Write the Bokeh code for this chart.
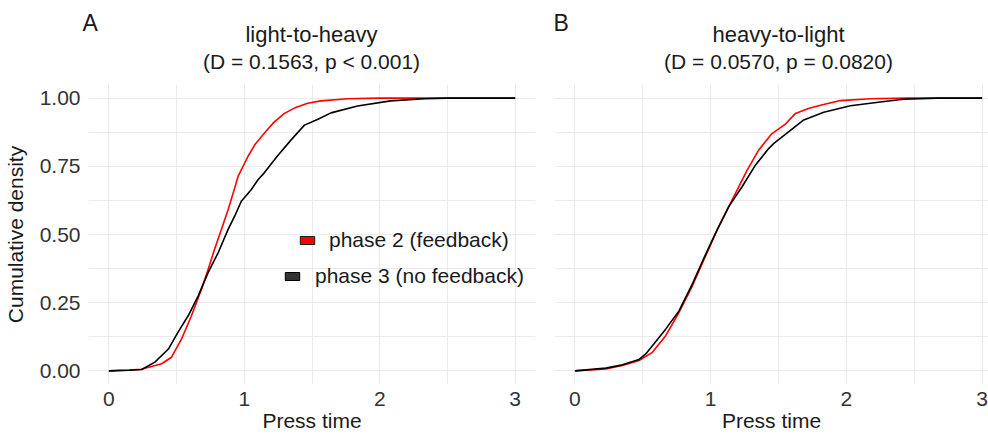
from bokeh.plotting import figure
from bokeh.layouts import row, column
from bokeh.models import FixedTicker, Range1d, Legend, LegendItem
from bokeh.core.properties import value
from bokeh.embed import file_html
from bokeh.resources import INLINE

FONT = "Liberation Sans"

# ---- data -------------------------------------------------------------
x_ticks = [0, 1, 2, 3]
x_minor = [0.5, 1.5, 2.5]
y_ticks = [0, 0.25, 0.5, 0.75, 1.0]
y_minor = [0.125, 0.375, 0.625, 0.875]
y_tick_labels = ["0.00", "0.25", "0.50", "0.75", "1.00"]

series_labels = ["phase 2 (feedback)", "phase 3 (no feedback)"]
panel_tags = ["A", "B"]
panel_titles = ["light-to-heavy", "heavy-to-light"]
panel_stats = ["(D = 0.1563, p < 0.001)", "(D = 0.0570, p = 0.0820)"]

# light-to-heavy, phase 2 (feedback): empirical CDF of press time
lh_p2_time = [0, 0.15, 0.24, 0.39, 0.463, 0.537, 0.61, 0.684, 0.733, 0.78,
              0.831, 0.88, 0.929, 0.954, 1.027, 1.076, 1.149, 1.22, 1.297,
              1.38, 1.468, 1.566, 1.76, 2.0, 3.0]
lh_p2_cdf = [0, 0.003, 0.006, 0.026, 0.05, 0.117, 0.202, 0.299, 0.372, 0.445,
             0.518, 0.59, 0.67, 0.713, 0.786, 0.828, 0.872, 0.912, 0.944,
             0.966, 0.981, 0.99, 0.998, 1.0, 1.0]

# light-to-heavy, phase 3 (no feedback)
lh_p3_time = [0, 0.15, 0.243, 0.34, 0.44, 0.51, 0.586, 0.66, 0.733, 0.807,
              0.88, 0.929, 0.978, 1.051, 1.1, 1.149, 1.223, 1.248, 1.346,
              1.444, 1.54, 1.64, 1.836, 2.08, 2.33, 2.5, 3.0]
lh_p3_cdf = [0, 0.002, 0.005, 0.032, 0.08, 0.141, 0.202, 0.275, 0.36, 0.433,
             0.518, 0.567, 0.622, 0.664, 0.70, 0.727, 0.774, 0.79, 0.847,
             0.901, 0.922, 0.946, 0.971, 0.99, 0.998, 1.0, 1.0]

# heavy-to-light, phase 2 (feedback)
hl_p2_time = [0, 0.228, 0.35, 0.473, 0.571, 0.669, 0.767, 0.865, 0.963, 1.049,
              1.11, 1.184, 1.27, 1.355, 1.447, 1.551, 1.625, 1.72, 1.809,
              1.956, 2.176, 2.45, 3.0]
hl_p2_cdf = [0, 0.007, 0.02, 0.038, 0.068, 0.129, 0.214, 0.311, 0.421, 0.518,
             0.579, 0.652, 0.737, 0.81, 0.868, 0.905, 0.944, 0.962, 0.974,
             0.991, 0.998, 1.0, 1.0]

# heavy-to-light, phase 3 (no feedback)
hl_p3_time = [0, 0.228, 0.35, 0.473, 0.522, 0.583, 0.669, 0.767, 0.865, 0.963,
              1.049, 1.135, 1.233, 1.331, 1.429, 1.466, 1.576, 1.686, 1.833,
              2.03, 2.25, 2.42, 2.67, 3.0]
hl_p3_cdf = [0, 0.01, 0.022, 0.042, 0.062, 0.099, 0.153, 0.22, 0.318, 0.427,
             0.518, 0.603, 0.676, 0.755, 0.816, 0.834, 0.877, 0.92, 0.948,
             0.972, 0.986, 0.996, 1.0, 1.0]

RED = "#FF0000"
BLACK = "#000000"
GRID = "#EBEBEB"
TEXT = "#1A1A1A"
TICK_TEXT = "#333333"

TOTAL_W = 988
HEADER_H = 84
PANEL_H = 434 - HEADER_H
LEFT_W = 544
RIGHT_W = TOTAL_W - LEFT_W


def style_grid(grid, ticker):
    grid.ticker = ticker
    grid.grid_line_color = GRID
    grid.grid_line_width = 1.2
    grid.minor_grid_line_color = GRID
    grid.minor_grid_line_width = 1.0


def make_header():
    """Strip across the top holding the panel tags, titles and statistics."""
    h = figure(width=TOTAL_W, height=HEADER_H, title=None,
               x_range=Range1d(0, TOTAL_W), y_range=Range1d(HEADER_H, 0),
               x_axis_location=None, y_axis_location=None,
               min_border=0, output_backend="svg", toolbar_location=None)
    h.xgrid.visible = False
    h.ygrid.visible = False
    h.outline_line_color = None
    h.background_fill_color = "white"
    h.border_fill_color = "white"
    # (tag x, title centre x) in header pixels for each panel
    for (tag_x, cx), tag, title, stats in zip([(82, 311), (553, 778)],
                                              panel_tags, panel_titles, panel_stats):
        h.text(x=[tag_x], y=[22], text=[tag], text_align="left",
               text_baseline="alphabetic", text_font=value(FONT),
               text_font_size="23px", text_color=TEXT)
        h.text(x=[cx], y=[34], text=[title], text_align="center",
               text_baseline="alphabetic", text_font=value(FONT),
               text_font_size="22px", text_color=TEXT)
        h.text(x=[cx], y=[60.5], text=[stats], text_align="center",
               text_baseline="alphabetic", text_font=value(FONT),
               text_font_size="21px", text_color=TEXT)
    return h


def make_panel(width, x_end, border_left, border_right, show_y):
    p = figure(width=width, height=PANEL_H, title=None,
               x_range=Range1d(-0.15, x_end), y_range=Range1d(-0.05, 1.05),
               min_border_left=border_left, min_border_right=border_right,
               min_border_top=0, min_border_bottom=48,
               output_backend="svg", toolbar_location=None)
    p.outline_line_color = None
    p.background_fill_color = "white"
    p.border_fill_color = "white"

    xt = FixedTicker(ticks=x_ticks, minor_ticks=x_minor)
    yt = FixedTicker(ticks=y_ticks, minor_ticks=y_minor)

    xa = p.xaxis[0]
    xa.ticker = xt
    xa.axis_label = "Press time"
    xa.axis_line_color = None
    xa.major_tick_line_color = None
    xa.minor_tick_line_color = None
    xa.major_label_standoff = 1
    xa.axis_label_standoff = 0
    xa.major_label_text_font = FONT
    xa.major_label_text_font_size = "21px"
    xa.major_label_text_color = TICK_TEXT
    xa.axis_label_text_font = FONT
    xa.axis_label_text_font_size = "21px"
    xa.axis_label_text_font_style = "normal"
    xa.axis_label_text_color = TEXT
    style_grid(p.xgrid[0], xt)

    ya = p.yaxis[0]
    ya.ticker = yt
    style_grid(p.ygrid[0], yt)
    if show_y:
        ya.axis_line_color = None
        ya.major_tick_line_color = None
        ya.minor_tick_line_color = None
        ya.major_label_overrides = {t: s for t, s in zip(y_ticks, y_tick_labels)}
        ya.axis_label = "Cumulative density"
        ya.major_label_standoff = 2
        ya.axis_label_standoff = 10
        ya.major_label_text_font = FONT
        ya.major_label_text_font_size = "21px"
        ya.major_label_text_color = TICK_TEXT
        ya.axis_label_text_font = FONT
        ya.axis_label_text_font_size = "21px"
        ya.axis_label_text_font_style = "normal"
        ya.axis_label_text_color = TEXT
    else:
        # right facet shares the y scale: keep the grid, hide the axis
        ya.visible = False
    return p


# ---- left panel: light-to-heavy ----------------------------------------
p1 = make_panel(LEFT_W, 3.15, 87, 9, True)
p1.line(lh_p2_time, lh_p2_cdf, line_color=RED, line_width=1.6)
p1.line(lh_p3_time, lh_p3_cdf, line_color=BLACK, line_width=1.6)

# legend keys: filled boxes, one legend per entry so each row is centred
nan = float("nan")
key_p2 = p1.quad(left=[nan], right=[nan], top=[nan], bottom=[nan],
                 fill_color=RED, line_color="#1A1A1A", line_width=1)
key_p3 = p1.quad(left=[nan], right=[nan], top=[nan], bottom=[nan],
                 fill_color="#333333", line_color="#000000", line_width=1)
for key, label, loc, standoff in [(key_p2, series_labels[0], (210, 132), 13),
                                  (key_p3, series_labels[1], (195, 96), 14)]:
    lg = Legend(items=[LegendItem(label=label, renderers=[key])],
                location=loc, orientation="vertical",
                glyph_width=18, glyph_height=10, label_standoff=standoff,
                padding=0, margin=0, spacing=0,
                border_line_color=None, background_fill_alpha=0,
                label_text_font=FONT, label_text_font_size="21px",
                label_text_color=TEXT)
    p1.add_layout(lg)

# ---- right panel: heavy-to-light ---------------------------------------
p2 = make_panel(RIGHT_W, -0.15 + (RIGHT_W - 10) / 448 * 3.3, 10, 0, False)
p2.line(hl_p2_time, hl_p2_cdf, line_color=RED, line_width=1.6)
p2.line(hl_p3_time, hl_p3_cdf, line_color=BLACK, line_width=1.6)

layout = column(make_header(), row(p1, p2))
open("out.html", "w").write(file_html(layout, INLINE))
